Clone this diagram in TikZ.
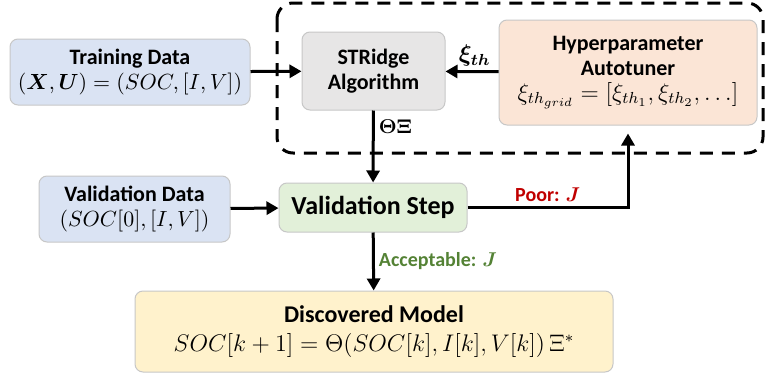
\documentclass[tikz,border=0pt]{standalone}
\usepackage{amsmath}
\usepackage{amssymb}
\usepackage{bm}
\usepackage{fontspec}
\setmainfont{Carlito}
\usepackage{tikz}
\usetikzlibrary{positioning,arrows.meta}

\definecolor{databox}{HTML}{DAE3F3}
\definecolor{algobox}{HTML}{E7E6E6}
\definecolor{tunebox}{HTML}{FBE5D6}
\definecolor{stepbox}{HTML}{E2F0D9}
\definecolor{modelbox}{HTML}{FFF2CC}
\definecolor{poorred}{HTML}{C00000}
\definecolor{okgreen}{HTML}{548235}

\begin{document}
\begin{tikzpicture}[x=0.5pt, y=-0.5pt,
    blk/.style={draw=black!22, line width=0.5pt, rounded corners=4pt, align=center,
      inner sep=2pt, font=\fontsize{11}{12.5}\selectfont},
    arr/.style={line width=1.5pt, -{Triangle[length=6pt,width=6.5pt]}},
    lbl/.style={font=\fontsize{10}{12}\selectfont\bfseries, inner sep=2pt}]
  \useasboundingbox (0,0) rectangle (765,375);

  % tuning loop frame
  \draw[line width=1.5pt, dash pattern=on 6.5pt off 4.5pt, rounded corners=8pt]
    (277,3) rectangle (763,153);

  \node[blk, fill=databox, minimum width=120pt, minimum height=33pt] (train) at (130,72)
    {\textbf{Training Data}\\ $(\bm{X},\bm{U}) = (SOC,[I,V])$};
  \node[blk, fill=algobox, minimum width=71.5pt, minimum height=39pt] (stridge) at (373.5,71)
    {\textbf{STRidge}\\ \textbf{Algorithm}};
  \node[blk, fill=tunebox, minimum width=129pt, minimum height=52.5pt] (tuner) at (628,72.5)
    {\textbf{Hyperparameter}\\ \textbf{Autotuner}\\
     \fontsize{12}{14}\selectfont $\xi_{th_{grid}} = [\xi_{th_1},\xi_{th_2},\ldots]$};
  \node[blk, fill=databox, minimum width=95.5pt, minimum height=33pt] (valdata) at (134.5,209)
    {\textbf{Validation Data}\\ $(SOC[0],[I,V])$};
  \node[blk, fill=stepbox, minimum width=94pt, minimum height=24.5pt,
    font=\fontsize{13}{15}\selectfont\bfseries] (valstep) at (373,207.5)
    {Validation Step};
  \node[blk, fill=modelbox, minimum width=239pt, minimum height=40.5pt,
    font=\fontsize{12}{14.5}\selectfont] (model) at (374,331.5)
    {\textbf{Discovered Model}\\ $SOC[k+1] = \Theta(SOC[k],I[k],V[k])\,\Xi^{*}$};

  \draw[arr] (train) -- (stridge);
  \draw[arr] (tuner) -- node[lbl, above, pos=0.45, font=\fontsize{12}{14}\selectfont]
    {$\bm{\xi_{th}}$} (stridge);
  \draw[arr] (stridge) -- node[lbl, right, pos=0.23] {$\bm{\Theta\Xi}$} (valstep);
  \draw[arr] (valdata) -- (valstep);
  \draw[arr, shorten >=4pt] (valstep.east) -| node[lbl, above, pos=0.25, text=poorred]
    {Poor: $\bm{J}$} (tuner.south);
  \draw[arr] (valstep) -- node[lbl, right, text=okgreen] {Acceptable: $\bm{J}$} (model);
\end{tikzpicture}
\end{document}
